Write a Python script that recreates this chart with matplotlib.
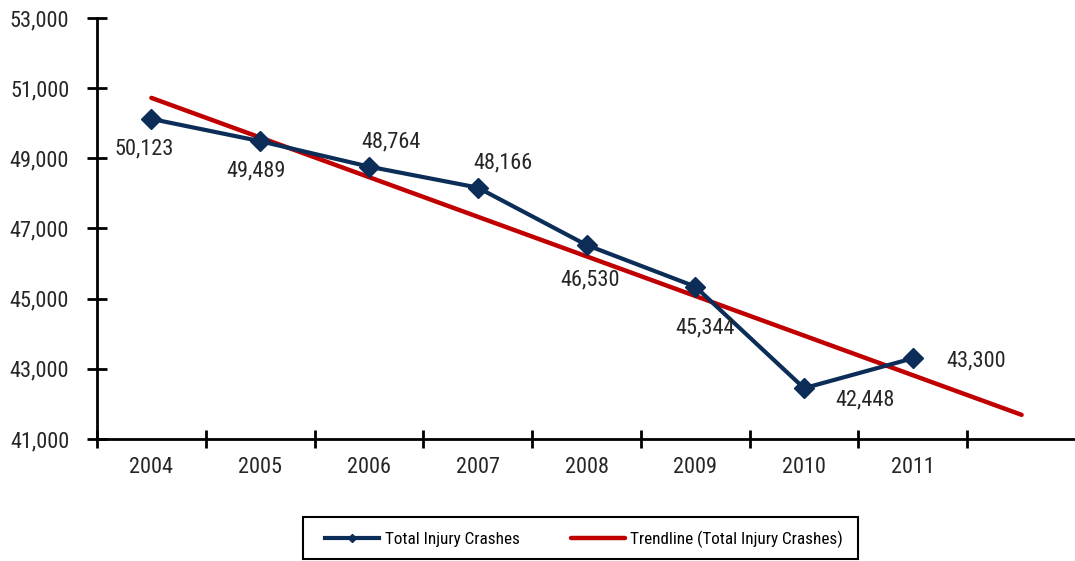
import numpy as np
import matplotlib
matplotlib.use("Agg")
import matplotlib.pyplot as plt
from matplotlib.patches import Rectangle
from matplotlib.ticker import FixedLocator, FuncFormatter

plt.rcParams['font.family'] = ['Roboto Condensed', 'DejaVu Sans']

years = ['2004', '2005', '2006', '2007', '2008', '2009', '2010', '2011']
crashes = [50123, 49489, 48764, 48166, 46530, 45344, 42448, 43300]
y_ticks = [41000, 43000, 45000, 47000, 49000, 51000, 53000]

navy = '#0b2d57'
red = '#c00000'
txtc = '#262626'

fig = plt.figure(figsize=(10.75, 5.61), dpi=100)
ax = fig.add_axes([97/1075, 1-439/561, (1076-97)/1075, (439-18)/561])

x = np.arange(len(years))
# linear trendline with one period forward forecast
coef = np.polyfit(x, crashes, 1)
xt = np.array([0, len(years)])
ax.plot(xt, np.polyval(coef, xt), color=red, lw=3.2, solid_capstyle='round', zorder=2,
        label='Trendline (Total Injury Crashes)')
ax.plot(x, crashes, color=navy, lw=3.0, marker='D', markersize=10, zorder=3,
        label='Total Injury Crashes')

offsets = [(-7, -30), (-4, -30), (22, 25), (25, 25), (4, -35), (10, -41), (61, -12), (63, -3)]
for xi, v, (dx, dy) in zip(x, crashes, offsets):
    ax.annotate(f"{v:,}", (xi, v), xytext=(dx, dy), textcoords='offset pixels',
                ha='center', va='center', fontsize=16, color=txtc)

ax.set_xlim(-0.5, 8.5)
ax.set_ylim(41000, 53000)
ax.yaxis.set_major_locator(FixedLocator(y_ticks))
ax.yaxis.set_major_formatter(FuncFormatter(lambda v, p: f"{int(v):,}"))
ax.xaxis.set_major_locator(FixedLocator(np.arange(-0.5, 8.6, 1.0)))
ax.xaxis.set_major_formatter(FuncFormatter(lambda v, p: ''))
ax.xaxis.set_minor_locator(FixedLocator(x))
ax.xaxis.set_minor_formatter(FuncFormatter(lambda v, p: years[int(round(v))] if 0 <= int(round(v)) < len(years) else ''))

for s in ['top', 'right']:
    ax.spines[s].set_visible(False)
for s in ['left', 'bottom']:
    ax.spines[s].set_linewidth(2)
    ax.spines[s].set_color('black')
ax.tick_params(axis='y', which='major', direction='inout', length=14, width=2, labelsize=16, pad=13,
               labelcolor=txtc)
ax.tick_params(axis='x', which='major', direction='inout', length=13, width=2)
ax.tick_params(axis='x', which='minor', length=0, labelsize=16, pad=13, labelcolor=txtc)

handles, labels = ax.get_legend_handles_labels()
leg = fig.legend(handles[::-1], labels[::-1], loc='center', bbox_to_anchor=(584/1075, 1-539/561),
                 ncol=2, frameon=False, fontsize=12.3,
                 handlelength=3.2, columnspacing=3.0, handletextpad=0.3, borderpad=0.3,
                 markerscale=0.4)
fig.patches.append(Rectangle((303/1075, 1-559/561), 555/1075, 42/561, transform=fig.transFigure,
                             facecolor='none', edgecolor='black', lw=1.5))

fig.savefig('out.png', dpi=100)
